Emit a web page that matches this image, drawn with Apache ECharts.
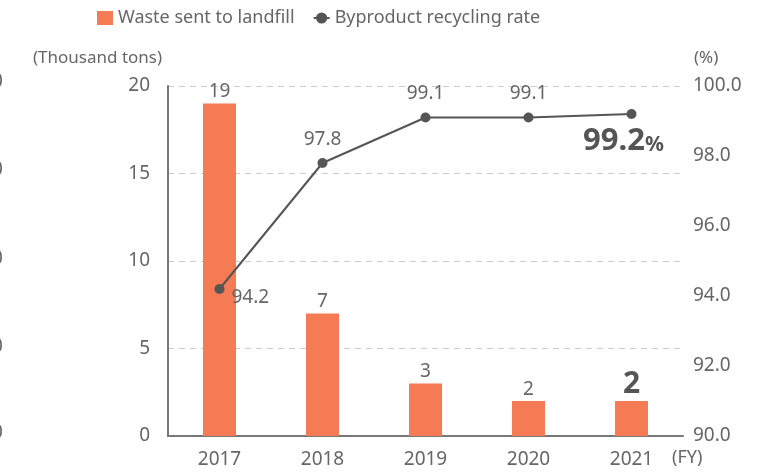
<!DOCTYPE html>
<html>
<head>
<meta charset="utf-8">
<script src="https://cdn.jsdelivr.net/npm/echarts@6/dist/echarts.min.js"></script>
<style>
  html, body { margin: 0; padding: 0; background: #fff; }
  #chart { width: 779px; height: 476px; }
</style>
</head>
<body>
<div id="chart"></div>
<script>
// data
var years = ["2017", "2018", "2019", "2020", "2021"];
var landfill = [19, 7, 3, 2, 2];
var recycling = [94.2, 97.8, 99.1, 99.1, 99.2];

var grey = "#666";
var font = "Noto Sans";
var orange = "#F47B53";

var chart = echarts.init(document.getElementById("chart"));

var barData = landfill.map(function (v, i) {
  var item = { value: v };
  if (i === landfill.length - 1) {
    item.label = { formatter: "{big|{c}}" };
  }
  return item;
});

var lineData = recycling.map(function (v, i) {
  var item = { value: v };
  if (i === 0) {
    item.label = { position: "right", offset: [-2, 9] };
  }
  if (i === recycling.length - 1) {
    item.label = { position: "bottom", offset: [-8, -2], formatter: "{big|{c}}{pct|%}" };
  }
  return item;
});

// cut-off glyphs at the very left edge of the picture
var edgeBits = [
  { type: "text", x: -6, y: 50, style: { text: ")", fontSize: 17, fill: grey, fontFamily: font } }
];
[72, 160, 249, 337, 423].forEach(function (t) {
  edgeBits.push({ type: "text", x: -8, y: t, style: { text: "0", fontSize: 19, fill: grey, fontFamily: font } });
});

var option = {
  animation: false,
  textStyle: { fontFamily: font },
  legend: {
    left: 92,
    top: 4,
    itemGap: 18,
    itemWidth: 16,
    itemHeight: 14,
    textStyle: { fontSize: 18, color: grey, fontFamily: font },
    data: [
      { name: "Waste sent to landfill", icon: "rect" },
      { name: "Byproduct recycling rate" }
    ]
  },
  grid: { left: 168, right: 96, top: 86, bottom: 40 },
  xAxis: {
    type: "category",
    data: years,
    axisLine: { lineStyle: { color: "#777", width: 2 } },
    axisTick: { show: false },
    axisLabel: { fontSize: 19, color: grey, margin: 14, fontFamily: font }
  },
  yAxis: [
    {
      type: "value",
      min: 0,
      max: 20,
      interval: 5,
      axisLine: { show: true, lineStyle: { color: "#777", width: 2 } },
      axisTick: { show: false },
      axisLabel: { fontSize: 19, color: grey, margin: 18, fontFamily: font },
      splitLine: { lineStyle: { color: "#ccc", type: [6, 5] } }
    },
    {
      type: "value",
      min: 90,
      max: 100,
      interval: 2,
      axisLine: { show: false },
      axisTick: { show: false },
      splitLine: { show: false },
      axisLabel: {
        fontSize: 19, color: grey, margin: 10, fontFamily: font,
        padding: [0, 0, 5, 0],
        formatter: function (v) { return v.toFixed(1); }
      }
    }
  ],
  series: [
    {
      name: "Waste sent to landfill",
      type: "bar",
      data: barData,
      barWidth: 33,
      itemStyle: { color: orange },
      label: {
        show: true,
        position: "top",
        distance: 2,
        fontSize: 19,
        color: grey,
        fontFamily: font,
        rich: { big: { fontSize: 30, fontWeight: "bold", color: "#555", fontFamily: font } }
      }
    },
    {
      name: "Byproduct recycling rate",
      type: "line",
      yAxisIndex: 1,
      data: lineData,
      symbol: "circle",
      symbolSize: 10,
      itemStyle: { color: "#555" },
      lineStyle: { color: "#555", width: 2 },
      label: {
        show: true,
        position: "top",
        distance: 9,
        fontSize: 19,
        color: grey,
        fontFamily: font,
        rich: {
          big: { fontSize: 31, fontWeight: "bold", color: "#555", fontFamily: font },
          pct: { fontSize: 21, fontWeight: "bold", color: "#555", fontFamily: font, padding: [8, 0, 0, 0] }
        }
      }
    }
  ],
  graphic: [
    { type: "text", left: 33, top: 50, style: { text: "(Thousand tons)", fontSize: 17, fill: grey, fontFamily: font } },
    { type: "text", left: 694, top: 50, style: { text: "(%)", fontSize: 17, fill: grey, fontFamily: font } },
    { type: "text", left: 672, top: 449, style: { text: "(FY)", fontSize: 18, fill: grey, fontFamily: font } }
  ].concat(edgeBits)
};

chart.setOption(option);
</script>
</body>
</html>
